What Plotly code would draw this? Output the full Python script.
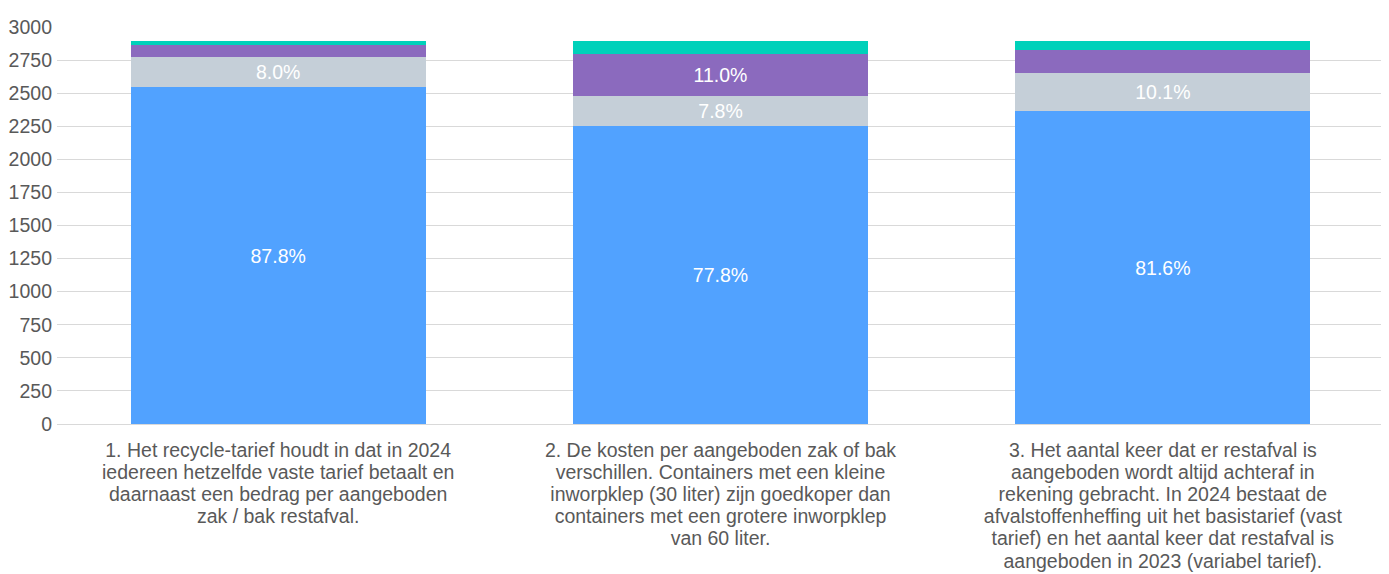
import plotly.graph_objects as go

categories = ["c1", "c2", "c3"]
category_lines = [
    ["1. Het recycle-tarief houdt in dat in 2024",
     "iedereen hetzelfde vaste tarief betaalt en",
     "daarnaast een bedrag per aangeboden",
     "zak / bak restafval."],
    ["2. De kosten per aangeboden zak of bak",
     "verschillen. Containers met een kleine",
     "inworpklep (30 liter) zijn goedkoper dan",
     "containers met een grotere inworpklep",
     "van 60 liter."],
    ["3. Het aantal keer dat er restafval is",
     "aangeboden wordt altijd achteraf in",
     "rekening gebracht. In 2024 bestaat de",
     "afvalstoffenheffing uit het basistarief (vast",
     "tarief) en het aantal keer dat restafval is",
     "aangeboden in 2023 (variabel tarief)."],
]

series_names = ["Reeks 1", "Reeks 2", "Reeks 3", "Reeks 4"]
values_1 = [2543, 2253, 2363]
values_2 = [232, 226, 292]
values_3 = [87, 319, 174]
values_4 = [34, 98, 67]
labels_1 = ["87.8%", "77.8%", "81.6%"]
labels_2 = ["8.0%", "7.8%", "10.1%"]
labels_3 = ["", "11.0%", ""]
labels_4 = ["", "", ""]

colors = ["#51A2FF", "#C5CFD8", "#8B6ABE", "#00D1BA"]
y_ticks = list(range(0, 3001, 250))

FONT = "Arial"
TXT = "#595959"

def wrap(lines):
    return "<br>".join(f'<span style="font-size:19.5px">{l}</span>' for l in lines)

tick_text = [wrap(l) for l in category_lines]

fig = go.Figure()
for name, vals, labs, col in zip(series_names,
                                 [values_1, values_2, values_3, values_4],
                                 [labels_1, labels_2, labels_3, labels_4],
                                 colors):
    fig.add_trace(go.Bar(
        x=categories, y=vals, name=name, text=labs,
        marker=dict(color=col, line=dict(width=0)),
        textposition="inside", insidetextanchor="middle",
        textangle=0, constraintext="none",
        textfont=dict(color="white", size=19.5, family=FONT),
    ))

fig.update_layout(
    barmode="stack",
    bargap=0.333,
    width=1381, height=566,
    margin=dict(l=49, r=5, t=19, b=150, autoexpand=False),
    plot_bgcolor="white", paper_bgcolor="white",
    showlegend=False,
    font=dict(family=FONT, color=TXT),
)
fig.update_xaxes(
    tickvals=categories, ticktext=tick_text,
    tickfont=dict(size=17, color=TXT, family=FONT),
    showgrid=False, showline=False, ticks="",
    ticklabelstandoff=15,
)
fig.update_yaxes(
    range=[0, 3000], tickvals=y_ticks,
    tickfont=dict(size=19.5, color=TXT, family=FONT),
    showgrid=True, gridcolor="#D9D9D9", gridwidth=1,
    zeroline=True, zerolinecolor="#D9D9D9", zerolinewidth=1,
    showline=False, ticks="", ticklabelstandoff=4,
)

fig.write_html("out.html")
